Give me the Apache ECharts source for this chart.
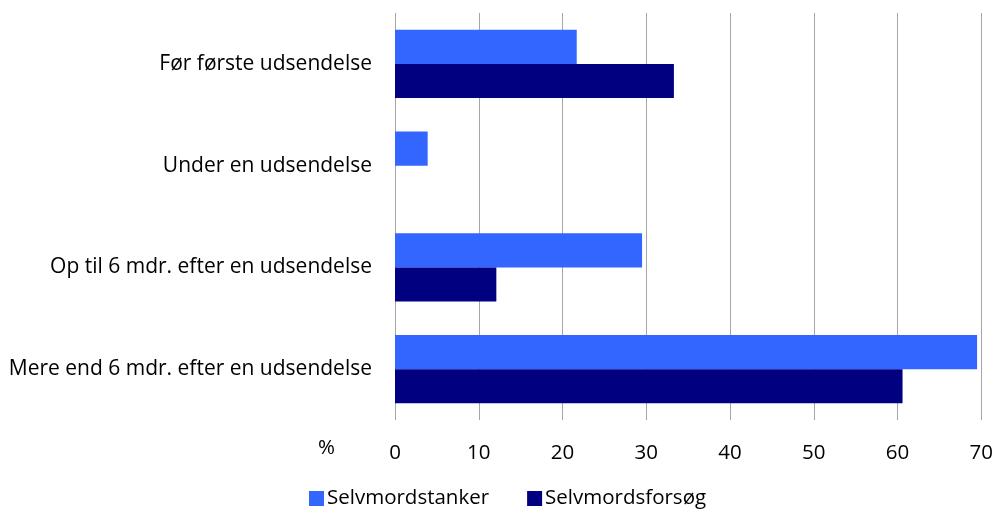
<!DOCTYPE html>
<html>
<head>
<meta charset="utf-8">
<script src="https://cdn.jsdelivr.net/npm/echarts@6/dist/echarts.min.js"></script>
<style>
  html, body { margin: 0; padding: 0; background: #fff; }
  #draw { width: 996px; height: 511px; }
</style>
</head>
<body>
<div id="draw"></div>
<script>
// categories top to bottom
var categories = [
  "Før første udsendelse",
  "Under en udsendelse",
  "Op til 6 mdr. efter en udsendelse",
  "Mere end 6 mdr. efter en udsendelse"
];
var tanker = [21.7, 3.9, 29.5, 69.5];
var forsog = [33.3, 0, 12.1, 60.6];
var seriesNames = ["Selvmordstanker", "Selvmordsforsøg"];

var font = "Open Sans";
var fs = 20.5;
var chart = echarts.init(document.getElementById("draw"));
var option = {
  animation: false,
  textStyle: { fontFamily: font },
  grid: { left: 395, right: 13, top: 13, bottom: 91, containLabel: false },
  legend: {
    bottom: -3,
    left: 304,
    itemWidth: 15,
    itemHeight: 15,
    itemGap: 38,
    icon: "rect",
    textStyle: { fontFamily: font, fontSize: 20.5, color: "#000", padding: [0, 0, 0, -2] },
    data: seriesNames
  },
  graphic: [
    {
      type: "text",
      left: 318,
      top: 438,
      style: { text: "%", fontFamily: font, fontSize: fs, fill: "#000" }
    }
  ],
  xAxis: {
    type: "value",
    min: 0,
    max: 70,
    interval: 10,
    axisLine: { show: false },
    axisTick: { show: false },
    axisLabel: { margin: 23, fontFamily: font, fontSize: fs, color: "#000" },
    splitLine: { show: true, lineStyle: { color: "#a6a6a6", width: 1 } }
  },
  yAxis: {
    type: "category",
    inverse: true,
    data: categories,
    axisLine: { show: false },
    axisTick: { show: false },
    axisLabel: { margin: 23, fontFamily: font, fontSize: 21, color: "#000" }
  },
  series: [
    {
      name: seriesNames[0],
      type: "bar",
      data: tanker,
      barGap: "0%",
      barCategoryGap: "33%",
      itemStyle: { color: "#3366ff" }
    },
    {
      name: seriesNames[1],
      type: "bar",
      data: forsog,
      itemStyle: { color: "#000080" }
    }
  ]
};
chart.setOption(option);
</script>
</body>
</html>
